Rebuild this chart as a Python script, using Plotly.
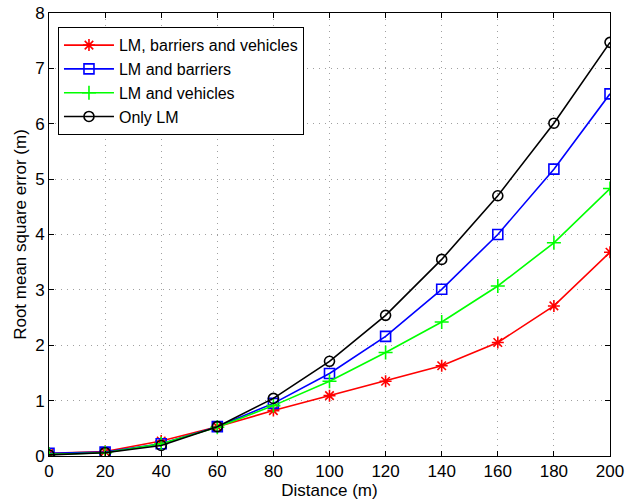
import plotly.graph_objects as go

distance = [0, 20, 40, 60, 80, 100, 120, 140, 160, 180, 200]
lm_barriers_vehicles = [0.05, 0.08, 0.27, 0.53, 0.82, 1.09, 1.35, 1.63, 2.05, 2.71, 3.68]
lm_barriers = [0.05, 0.07, 0.22, 0.53, 0.95, 1.49, 2.16, 3.01, 4.00, 5.18, 6.54]
lm_vehicles = [0.03, 0.06, 0.22, 0.52, 0.91, 1.35, 1.87, 2.42, 3.07, 3.85, 4.83]
only_lm = [0.02, 0.06, 0.19, 0.53, 1.04, 1.71, 2.54, 3.55, 4.70, 6.01, 7.47]

series = [
    ("LM, barriers and vehicles", lm_barriers_vehicles, "#ff0000", "asterisk-open"),
    ("LM and barriers", lm_barriers, "#0000ff", "square-open"),
    ("LM and vehicles", lm_vehicles, "#00ff00", "cross-thin-open"),
    ("Only LM", only_lm, "#000000", "circle-open"),
]

fig = go.Figure()
for name, vals, color, sym in series:
    fig.add_trace(go.Scatter(
        x=distance, y=vals, name=name, mode="lines+markers",
        line=dict(color=color, width=1.6),
        marker=dict(symbol=sym, size=10, color=color, line=dict(color=color, width=1.6)),
    ))

axis_common = dict(
    showline=True, linecolor="black", linewidth=1, mirror="ticks",
    ticks="inside", ticklen=5, tickcolor="black",
    showgrid=True, gridcolor="#a0a0a0", griddash="1px,5px", gridwidth=1,
    zeroline=False, automargin=False, ticklabeloverflow="allow",
    tickfont=dict(family="Liberation Sans, Arial", size=17, color="black"),
)

fig.update_layout(
    width=637, height=502,
    margin=dict(l=49, r=27, t=13, b=46),
    paper_bgcolor="white", plot_bgcolor="white",
    font=dict(family="Liberation Sans, Arial", color="black"),
    xaxis=dict(range=[0, 200], dtick=20,
               title=dict(text="Distance (m)", font=dict(size=17), standoff=0),
               **axis_common),
    yaxis=dict(range=[0, 8], dtick=1,
               title=dict(text="Root mean square error (m)", font=dict(size=17), standoff=4),
               **axis_common),
    legend=dict(x=0.016, y=0.968, xanchor="left", yanchor="top",
                bgcolor="white", bordercolor="black", borderwidth=1,
                font=dict(size=16), itemwidth=50, tracegroupgap=0),
    showlegend=True,
)

fig.write_html("out.html", config={"displayModeBar": False},
               post_script="document.body.style.margin='0px';")
